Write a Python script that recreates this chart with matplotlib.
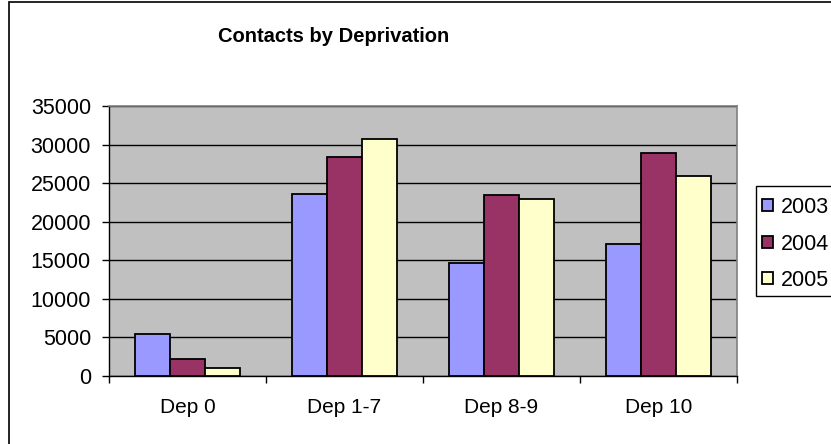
import matplotlib.pyplot as plt
import numpy as np
from matplotlib.patches import Rectangle

categories = ['Dep 0', 'Dep 1-7', 'Dep 8-9', 'Dep 10']
years = ['2003', '2004', '2005']
values_2003 = [5400, 23600, 14600, 17100]
values_2004 = [2200, 28400, 23400, 28900]
values_2005 = [1100, 30700, 23000, 25900]
colors = ['#9999FF', '#993366', '#FFFFCC']

plt.rcParams['font.family'] = ['Liberation Sans', 'DejaVu Sans']

W, H = 831, 444
fig = plt.figure(figsize=(W / 100, H / 100), dpi=100)

# plot area in pixels: x 109..737, y 106..376
ax = fig.add_axes([109 / W, 1 - 376 / H, 628 / W, 270 / H])
ax.set_facecolor('#C0C0C0')

x = np.arange(len(categories))
bw = 1 / 4.5
series = [values_2003, values_2004, values_2005]
for i, (vals, c) in enumerate(zip(series, colors)):
    ax.bar(x + (i - 1) * bw, vals, width=bw, color=c, edgecolor='black',
           linewidth=1.3, label=years[i], zorder=3)

ax.set_xlim(-0.5, len(categories) - 0.5)
ax.set_ylim(0, 35000)
ax.set_yticks(np.arange(0, 35001, 5000))
ax.yaxis.grid(True, color='black', linewidth=1)
ax.set_axisbelow(True)

ax.set_xticks(x)
ax.set_xticklabels(categories, fontsize=15)
ax.set_xticks(np.arange(-0.5, len(categories)), minor=True)
ax.tick_params(axis='x', which='major', length=0, pad=16)
ax.tick_params(axis='x', which='minor', length=5, width=1, color='black')
ax.tick_params(axis='y', length=5, width=1, color='black', labelsize=15.5, pad=8)

for s in ['top', 'right']:
    ax.spines[s].set_color('#808080')
    ax.spines[s].set_linewidth(1.2)
for s in ['left', 'bottom']:
    ax.spines[s].set_color('black')
    ax.spines[s].set_linewidth(1)

fig.text(334 / W, 1 - 37 / H, 'Contacts by Deprivation', ha='center', va='center',
         fontsize=14.5, fontweight='bold')

# outer chart border
fig.patches.append(Rectangle((8.5 / W, -0.1), 1.2, 1 - 2.5 / H + 0.1,
                             transform=fig.transFigure, fill=False,
                             edgecolor='black', linewidth=1.2))

# legend box
fig.patches.append(Rectangle((756 / W, 1 - 296 / H), 0.2, 110 / H,
                             transform=fig.transFigure, facecolor='white',
                             edgecolor='black', linewidth=1))
handles, labels = ax.get_legend_handles_labels()
fig.legend(handles, labels, loc='upper left', bbox_to_anchor=(762 / W, 1 - 197 / H),
           frameon=False, fontsize=15.5, handlelength=0.5, handleheight=0.5,
           handletextpad=0.4, labelspacing=0.72, borderpad=0, borderaxespad=0)

fig.savefig('out.png', dpi=100)
